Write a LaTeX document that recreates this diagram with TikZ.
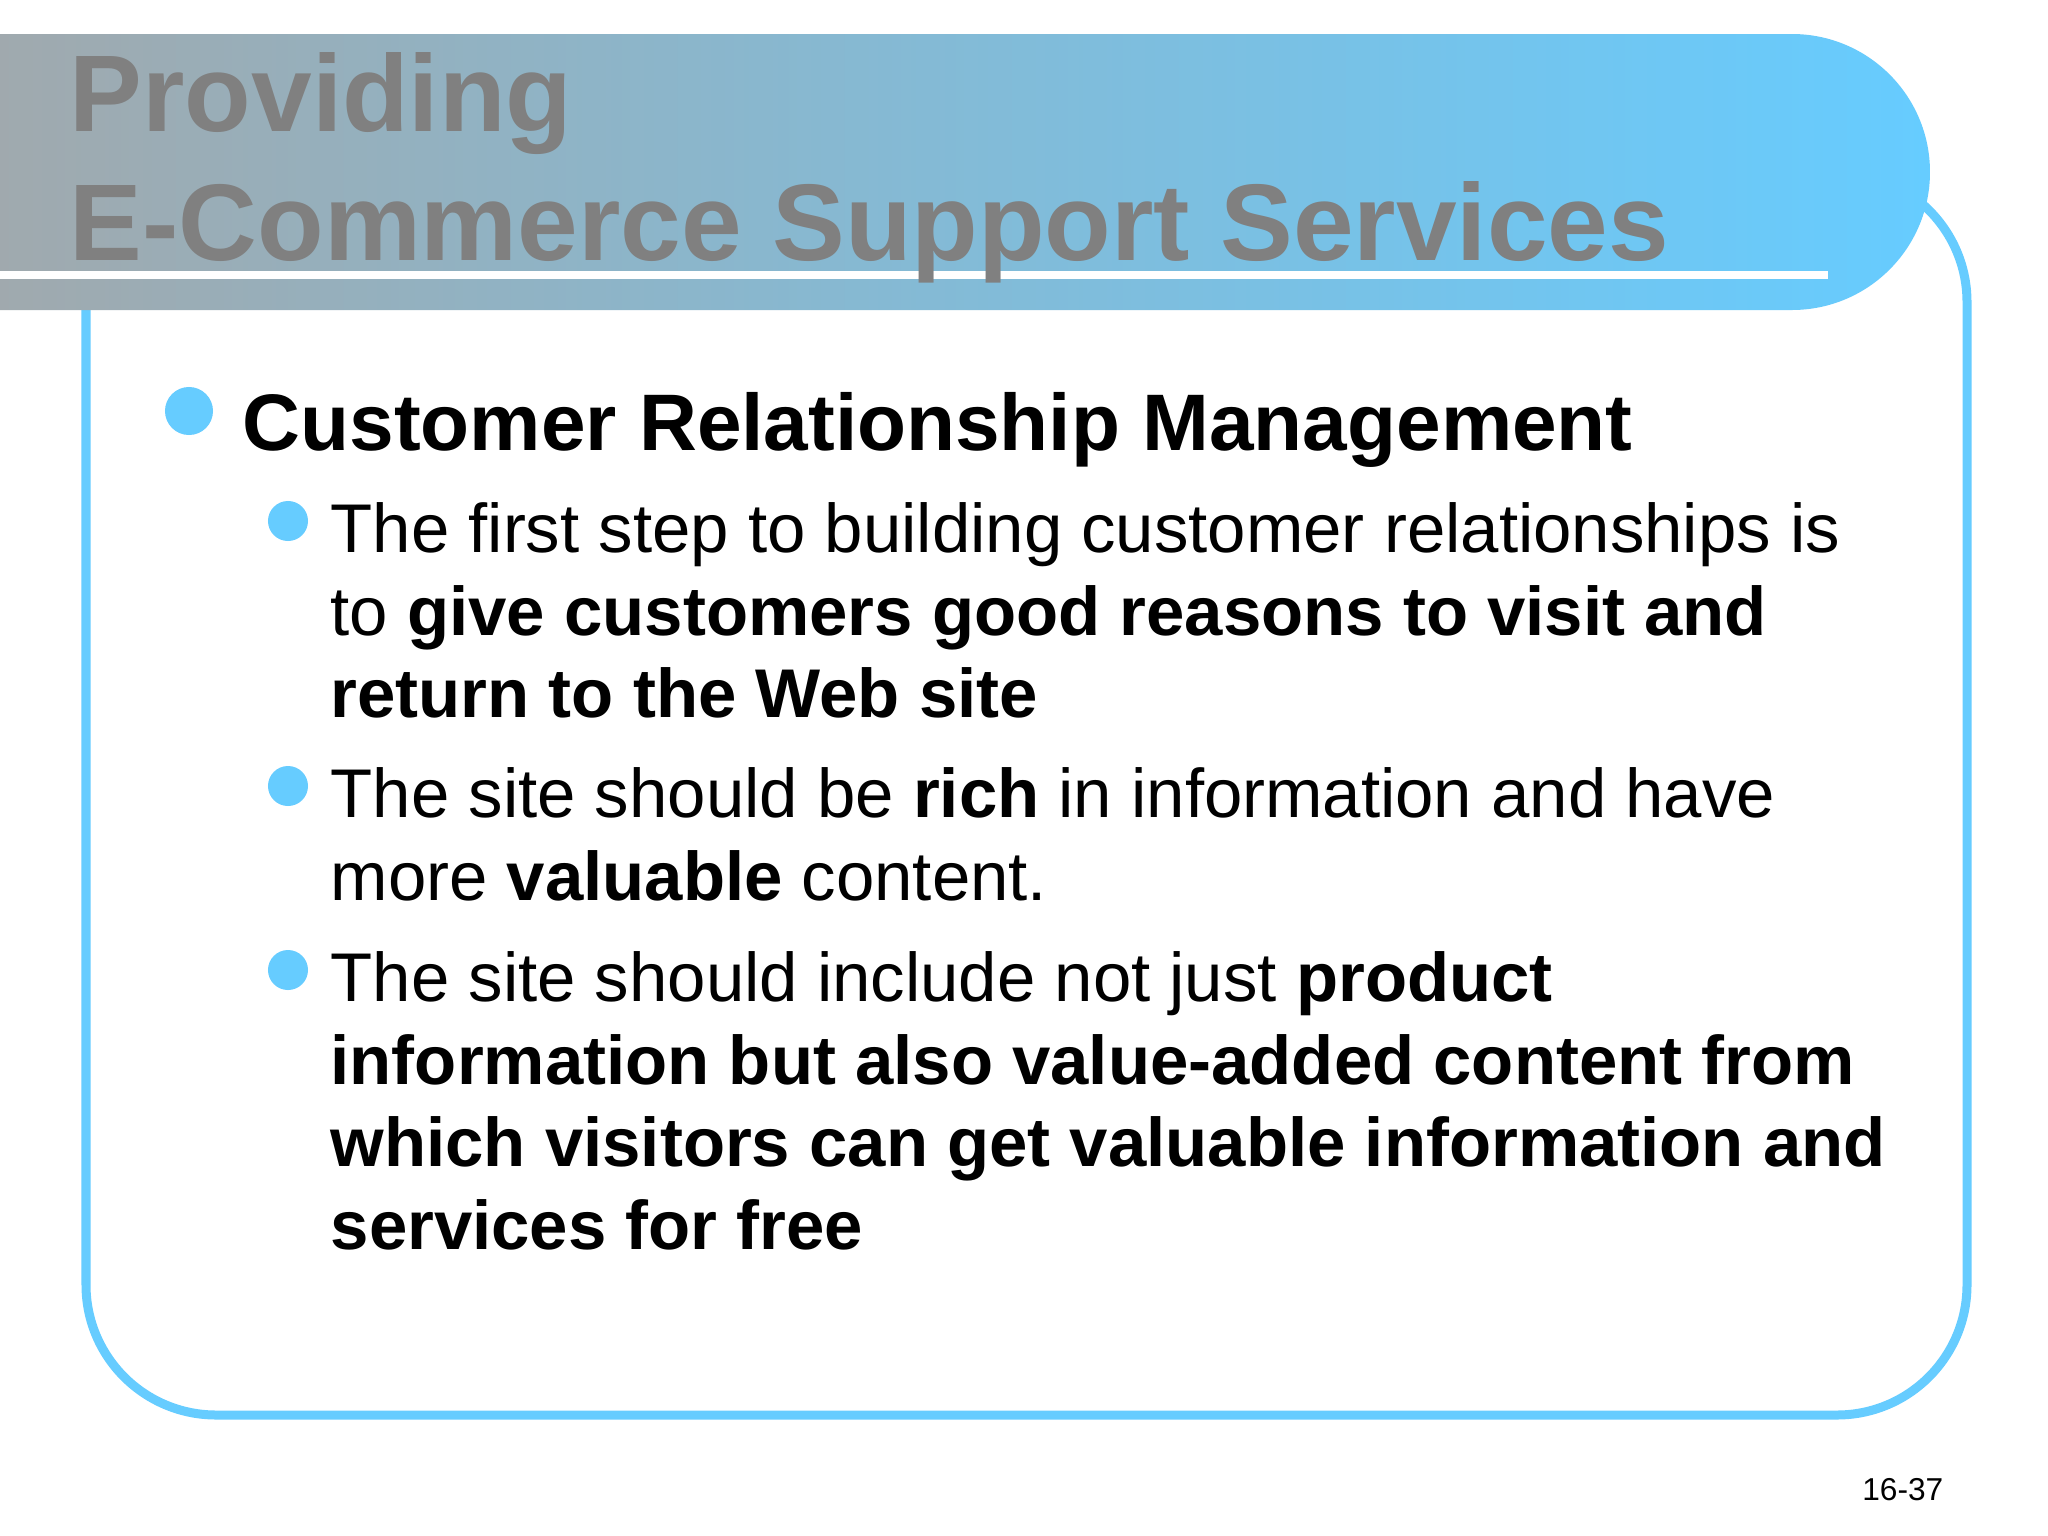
\documentclass[tikz,border=0pt]{standalone}
\usepackage{fontspec}
\setmainfont{Liberation Sans}
\definecolor{sky}{HTML}{66CCFF}
\definecolor{ttl}{HTML}{808080}
\begin{document}
\begin{tikzpicture}[x=0.01cm,y=-0.01cm,
  tx/.style={anchor=base west,inner sep=0pt,font=\fontsize{19.6}{23}\selectfont},
  dot/.style={circle,fill=sky,inner sep=0pt,minimum size=0.4cm}]
\useasboundingbox (0,0) rectangle (2048,1536);
\fill[white] (0,0) rectangle (2048,1536);
\draw[sky,line width=9*0.2845pt,rounded corners=1.3cm] (86,172) rectangle (1967,1415);
\shade[left color=black!35,right color=sky,rounded corners=1.38cm] (-200,34) rectangle (1930,310);
\fill[white] (0,271) rectangle (1828,279);
\node[anchor=base west,inner sep=0pt,text=ttl,font=\fontsize{31}{36}\selectfont\bfseries] (t1) at (69,131) {Providing};
\node[anchor=base west,inner sep=0pt,text=ttl,font=\fontsize{31}{36}\selectfont\bfseries] (t2) at (69,260) {E-Commerce Support Services};
\node[dot,minimum size=0.48cm] (b0) at (189,411) {};
\node[anchor=base west,inner sep=0pt,font=\fontsize{22.8}{27}\selectfont\bfseries] (h) at (242,450) {Customer Relationship Management};
\node[dot] (b1) at (288,521) {};
\node[tx] (l1) at (330,552) {The first step to building customer relationships is};
\node[tx] (l2) at (330,635) {to \textbf{give customers good reasons to visit and}};
\node[tx] (l3) at (330,717) {\textbf{return to the Web site}};
\node[dot] (b2) at (288,786) {};
\node[tx] (l4) at (330,817) {The site should be \textbf{rich} in information and have};
\node[tx] (l5) at (330,900) {more \textbf{valuable} content.};
\node[dot] (b3) at (288,970) {};
\node[tx] (l6) at (330,1001) {The site should include not just \textbf{product}};
\node[tx] (l7) at (330,1084) {\textbf{information but also value-added content from}};
\node[tx] (l8) at (330,1166) {\textbf{which visitors can get valuable information and}};
\node[tx] (l9) at (330,1249) {\textbf{services for free}};
\node[anchor=base east,inner sep=0pt,font=\fontsize{9}{11}\selectfont] (pg) at (1944,1500) {16-37};
\end{tikzpicture}
\end{document}
